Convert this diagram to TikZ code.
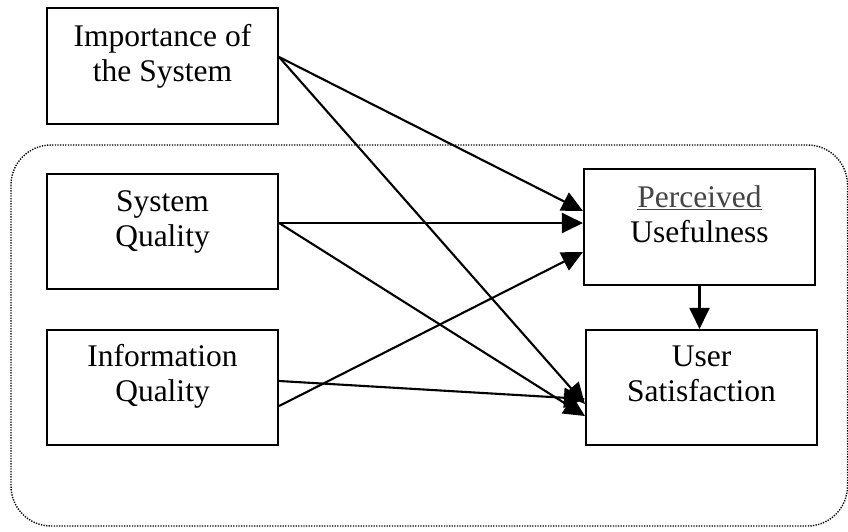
\documentclass[tikz,border=0pt]{standalone}
\usepackage{fontspec}
\setmainfont{Liberation Serif}
\usetikzlibrary{arrows.meta}
\definecolor{pgray}{HTML}{444444}
\tikzset{
  box/.style={draw, line width=2.1pt, rectangle, minimum width=231pt, minimum height=116pt, inner sep=0pt},
  txt/.style={inner sep=0pt, anchor=base, font=\fontsize{31.5}{35}\selectfont},
  conn/.style={line width=2.1pt, -{Triangle[length=21pt,width=20pt]}},
  group/.style={line width=1.4pt, dash pattern=on 1.3pt off 1.3pt, rounded corners=40pt}
}
\begin{document}
\begin{tikzpicture}[x=1pt,y=-1pt]
\useasboundingbox (0,0) rectangle (848,532);
\clip (0,0) rectangle (848,532);
\draw[group] (11,145) rectangle (847.5,526);

\node[box] (imp) at (162.5,66) {};
\node[box, minimum height=115pt] (sq) at (162.5,231.5) {};
\node[box, minimum height=115pt] (iq) at (162.5,387.5) {};
\node[box] (pu) at (699.5,227) {};
\node[box, minimum height=115pt] (us) at (701.5,387.5) {};

\node[txt] (imp1) at ([yshift=-40pt]imp.north) {Importance of};
\node[txt] (imp2) at ([yshift=-75pt]imp.north) {the System};
\node[txt] (sq1) at ([yshift=-39pt]sq.north) {System};
\node[txt] (sq2) at ([yshift=-74pt]sq.north) {Quality};
\node[txt] (iq1) at ([yshift=-38pt]iq.north) {Information};
\node[txt] (iq2) at ([yshift=-73pt]iq.north) {Quality};
\node[txt, text=pgray] (pu1) at ([yshift=-40pt]pu.north) {\underline{Perceived}};
\node[txt] (pu2) at ([yshift=-75pt]pu.north) {Usefulness};
\node[txt] (us1) at ([yshift=-38pt]us.north) {User};
\node[txt] (us2) at ([yshift=-73pt]us.north) {Satisfaction};

\draw[conn] ([yshift=9pt]imp.east) -- ([yshift=16pt]pu.west);
\draw[conn] ([yshift=9pt]imp.east) -- ([yshift=-16.5pt]us.west);
\draw[conn] ([yshift=8.5pt]sq.east) -- ([yshift=4pt]pu.west);
\draw[conn] ([yshift=8.5pt]sq.east) -- ([yshift=-28.5pt]us.west);
\draw[conn] ([yshift=6.5pt]iq.east) -- ([yshift=-11.5pt]us.west);
\draw[conn] ([yshift=-18.5pt]iq.east) -- ([yshift=-25pt]pu.west);
\draw[conn] (pu.south) -- (pu.south |- us.north);
\end{tikzpicture}
\end{document}
